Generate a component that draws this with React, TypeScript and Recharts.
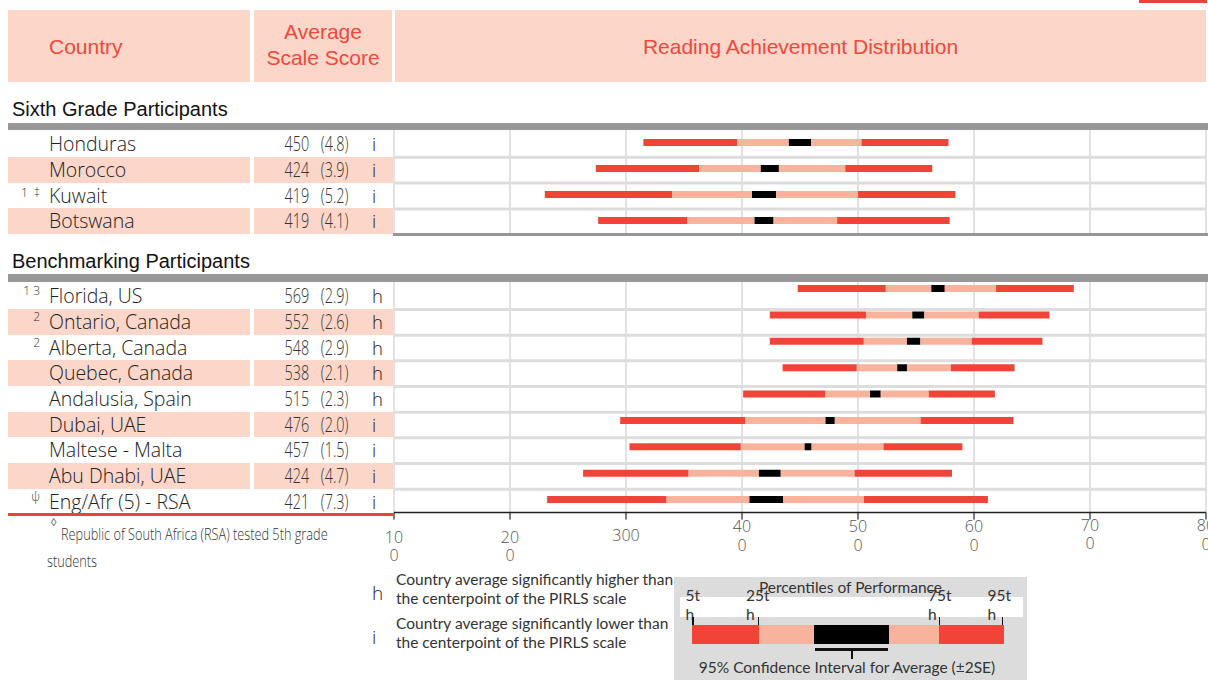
import React from 'react';
import { BarChart, Bar, XAxis, YAxis, CartesianGrid } from 'recharts';

// ---------- data ----------
const sixthCountries = ['Honduras', 'Morocco', 'Kuwait', 'Botswana'];
const sixthNotes = ['', '', '1  \u2021', ''];
const sixthMean = [450, 424, 419, 419];
const sixthSE = [4.8, 3.9, 5.2, 4.1];
const sixthFlag = ['i', 'i', 'i', 'i'];
const sixthP5 = [315, 274, 230, 276];
const sixthP25 = [396, 363, 340, 353];
const sixthP75 = [503, 489, 500, 482];
const sixthP95 = [578, 564, 584, 579];

const benchCountries = ['Florida, US', 'Ontario, Canada', 'Alberta, Canada', 'Quebec, Canada', 'Andalusia, Spain', 'Dubai, UAE', 'Maltese - Malta', 'Abu Dhabi, UAE', 'Eng/Afr (5) - RSA'];
const benchNotes = ['1 3', '2', '2', '', '', '', '', '', '\u03C8'];
const benchMean = [569, 552, 548, 538, 515, 476, 457, 424, 421];
const benchSE = [2.9, 2.6, 2.9, 2.1, 2.3, 2.0, 1.5, 4.7, 7.3];
const benchFlag = ['h', 'h', 'h', 'h', 'h', 'i', 'i', 'i', 'i'];
const benchP5 = [448, 424, 424, 435, 401, 295, 303, 263, 232];
const benchP25 = [524, 507, 505, 499, 472, 403, 399, 354, 335];
const benchP75 = [619, 604, 598, 580, 561, 554, 522, 497, 505];
const benchP95 = [686, 665, 659, 635, 618, 634, 590, 581, 612];

const xTicks = [100, 200, 300, 400, 500, 600, 700, 800];
const xTickLabels = [['10', '0'], ['20', '0'], ['300'], ['40', '0'], ['50', '0'], ['60', '0'], ['70', '0'], ['80', '0']];
const pctLabels = [['5t', 'h'], ['25t', 'h'], ['75t', 'h'], ['95t', 'h']];

// ---------- styles ----------
const PINK = '#FCD6C8';
const RED = '#F04438';
const LIGHT = '#F8B39C';
const HEAD_RED = '#F0483C';
const GRAY_BAR = '#979797';
const SEP = '#DDDDDD';
const PLOT_LEFT = 394;
const PLOT_W = 812;
const PAD = 30;
const HEAD_FONT = '"Liberation Sans", Arial, sans-serif';
const NAME_FONT = '"Open Sans", "Noto Sans", sans-serif';
const LEG_FONT = 'Lato, "Open Sans", sans-serif';
const TICK_BASE = [30, 30, 28, 19.5, 19.5, 19.5, 18, 18.5];

function buildRows(names: string[], mean: number[], se: number[], p5: number[], p25: number[], p75: number[], p95: number[]) {
  return names.map((n, i) => {
    const lo = mean[i] - 2 * se[i];
    const hi = mean[i] + 2 * se[i];
    return {
      name: n,
      base: p5[i],
      lowTail: p25[i] - p5[i],
      lowMid: lo - p25[i],
      ci: hi - lo,
      highMid: p75[i] - hi,
      highTail: p95[i] - p75[i],
    };
  });
}

const AxisTick = (props: any) => {
  const { x, y, payload } = props;
  const idx = xTicks.indexOf(payload.value);
  const lines = xTickLabels[idx] || [String(payload.value)];
  const b = (TICK_BASE[idx] ?? 20) - 7;
  return (
    <text x={x} y={y + b} textAnchor="middle" fill="#555" fontSize={16} fontFamily={NAME_FONT} fontWeight={300}>
      {lines.map((l, k) => (
        <tspan key={k} x={x} dy={k === 0 ? 0 : 18.5}>{l}</tspan>
      ))}
    </text>
  );
};

function DistChart({ data, top, plotH, axis, rowTop, rowH }: any) {
  const axisH = axis ? 60 : 0;
  const seps = data.slice(1).map((_: any, k: number) => rowTop + (k + 1) * rowH - top);
  return (
    <div style={{ position: 'absolute', left: PLOT_LEFT - PAD, top }}>
      <BarChart width={PLOT_W + PAD + 20} height={plotH + axisH} data={data} layout="vertical"
        margin={{ top: 0, right: 20, bottom: 0, left: PAD }} barCategoryGap={0} barSize={7}>
        <CartesianGrid horizontal={false} vertical stroke="#E2E2E2" strokeWidth={2} />
        <CartesianGrid horizontal vertical={false} horizontalPoints={seps} stroke={SEP} strokeWidth={3} />
        <XAxis type="number" domain={[100, 800]} ticks={xTicks} allowDataOverflow interval={0}
          hide={!axis} height={axisH} axisLine={{ stroke: '#222', strokeWidth: 1.5 }}
          tickLine={{ stroke: '#222', strokeWidth: 1.2 }} tickSize={7} tickMargin={0} tick={<AxisTick />} />
        <YAxis type="category" dataKey="name" hide width={0} />
        <Bar dataKey="base" stackId="s" fill="transparent" isAnimationActive={false} />
        <Bar dataKey="lowTail" stackId="s" fill={RED} isAnimationActive={false} />
        <Bar dataKey="lowMid" stackId="s" fill={LIGHT} isAnimationActive={false} />
        <Bar dataKey="ci" stackId="s" fill="#000" isAnimationActive={false} />
        <Bar dataKey="highMid" stackId="s" fill={LIGHT} isAnimationActive={false} />
        <Bar dataKey="highTail" stackId="s" fill={RED} isAnimationActive={false} />
      </BarChart>
    </div>
  );
}

const narrow = (right: number, top: number, h: number, txt: string) => (
  <div style={{ position: 'absolute', right: 1208 - right, top, lineHeight: h + 'px', fontFamily: NAME_FONT, fontWeight: 300, fontSize: 20, color: '#333', whiteSpace: 'nowrap', transform: 'scaleX(0.72)', transformOrigin: 'right center' }}>{txt}</div>
);

function TableRows({ names, notes, mean, se, flag, rowTop, rowH, noteDy }: any) {
  return (
    <>
      {names.map((n: string, i: number) => {
        const top = rowTop + i * rowH;
        const pink = i % 2 === 1;
        return (
          <React.Fragment key={n}>
            {pink && <div style={{ position: 'absolute', left: 8, top, width: 242, height: rowH, background: PINK }} />}
            {pink && <div style={{ position: 'absolute', left: 254, top, width: 139, height: rowH, background: PINK }} />}
            {notes[i] && (
              <div style={{ position: 'absolute', left: 0, width: 40, top: top + noteDy, textAlign: 'right', fontFamily: NAME_FONT, fontWeight: 300, fontSize: 12, lineHeight: '12px', color: '#333', whiteSpace: 'pre' }}>{notes[i]}</div>
            )}
            <div style={{ position: 'absolute', left: 49, top, height: rowH, lineHeight: rowH + 'px', fontFamily: NAME_FONT, fontWeight: 300, fontSize: 19.5, color: '#222', whiteSpace: 'nowrap' }}>{n}</div>
            {narrow(309, top, rowH, String(mean[i]))}
            {narrow(348.5, top, rowH, `(${se[i].toFixed(1)})`)}
            <div style={{ position: 'absolute', left: 372, top, lineHeight: rowH + 'px', fontFamily: NAME_FONT, fontWeight: 300, fontSize: 18.5, color: '#222' }}>{flag[i]}</div>
          </React.Fragment>
        );
      })}
    </>
  );
}

export default function App() {
  const sixth = buildRows(sixthCountries, sixthMean, sixthSE, sixthP5, sixthP25, sixthP75, sixthP95);
  const bench = buildRows(benchCountries, benchMean, benchSE, benchP5, benchP25, benchP75, benchP95);
  const S_TOP = 131, S_H = 25.8, B_TOP = 283.3, B_H = 25.67;
  const abs = (o: any) => ({ position: 'absolute' as const, ...o });
  const segs = [
    { l: 692, r: 759, c: RED }, { l: 759, r: 814, c: LIGHT }, { l: 814, r: 889, c: '#000' },
    { l: 889, r: 939, c: LIGHT }, { l: 939, r: 1004, c: RED },
  ];
  const pctX = [685.5, 746, 928, 987.5];
  const pctTick = [692, 757.5, 938.5, 1001.5];
  const foot = { fontFamily: NAME_FONT, fontWeight: 300, fontSize: 17, color: '#333', whiteSpace: 'nowrap', transform: 'scaleX(0.75)', transformOrigin: 'left center', lineHeight: '20px' };
  return (
    <div style={{ position: 'absolute', left: 0, top: 0, width: 1208, height: 680, overflow: 'hidden', background: '#fff' }}>
      {/* top-right red mark */}
      <div style={abs({ left: 1139, top: 0, width: 68, height: 3, background: '#E8443A' })} />
      {/* header */}
      <div style={abs({ left: 8, top: 10, width: 242, height: 72, background: PINK })} />
      <div style={abs({ left: 254, top: 10, width: 138, height: 72, background: PINK })} />
      <div style={abs({ left: 395, top: 10, width: 811, height: 72, background: PINK })} />
      <div style={abs({ left: 49, top: 35, lineHeight: '24px', fontFamily: HEAD_FONT, fontSize: 21, color: HEAD_RED })}>Country</div>
      <div style={abs({ left: 254, top: 19, width: 138, textAlign: 'center', lineHeight: '26px', fontFamily: HEAD_FONT, fontSize: 21, color: HEAD_RED })}>Average<br />Scale Score</div>
      <div style={abs({ left: 395, top: 35, width: 811, textAlign: 'center', lineHeight: '24px', fontFamily: HEAD_FONT, fontSize: 21, color: HEAD_RED })}>Reading Achievement Distribution</div>

      <div style={abs({ left: 12, top: 97, lineHeight: '24px', fontFamily: HEAD_FONT, fontSize: 20, color: '#111', whiteSpace: 'nowrap' })}>Sixth Grade Participants</div>
      <div style={abs({ left: 12, top: 248.5, lineHeight: '24px', fontFamily: HEAD_FONT, fontSize: 20, color: '#111', whiteSpace: 'nowrap' })}>Benchmarking Participants</div>

      <TableRows names={sixthCountries} notes={sixthNotes} mean={sixthMean} se={sixthSE} flag={sixthFlag} rowTop={S_TOP} rowH={S_H} noteDy={4.5} />
      <TableRows names={benchCountries} notes={benchNotes} mean={benchMean} se={benchSE} flag={benchFlag} rowTop={B_TOP} rowH={B_H} noteDy={2} />

      <DistChart data={sixth} top={128.5} plotH={104} axis={false} rowTop={S_TOP} rowH={S_H} />
      <DistChart data={bench} top={274.5} plotH={237.5} axis rowTop={B_TOP} rowH={B_H} />

      {/* gray rules */}
      <div style={abs({ left: 8, top: 123.3, width: 1200, height: 7.2, background: GRAY_BAR })} />
      <div style={abs({ left: 393, top: 232.8, width: 815, height: 3.2, background: GRAY_BAR })} />
      <div style={abs({ left: 8, top: 274, width: 1200, height: 7.6, background: GRAY_BAR })} />
      <div style={abs({ left: 8, top: 513, width: 385, height: 2.5, background: '#E8443A' })} />

      {/* footnote */}
      <div style={abs({ left: 51, top: 516, fontFamily: HEAD_FONT, fontSize: 11, lineHeight: '12px', color: '#444' })}>{'\u25CA'}</div>
      <div style={abs({ left: 60.5, top: 524, ...foot })}>Republic of South Africa (RSA) tested 5th grade</div>
      <div style={abs({ left: 47, top: 550.5, ...foot })}>students</div>

      {/* h / i legend */}
      <div style={abs({ left: 372, top: 582, lineHeight: '22px', fontFamily: NAME_FONT, fontWeight: 300, fontSize: 19, color: '#222' })}>h</div>
      <div style={abs({ left: 396, top: 569.5, lineHeight: '19px', fontFamily: LEG_FONT, fontSize: 15.5, color: '#333', whiteSpace: 'nowrap' })}>Country average significantly higher than<br />the centerpoint of the PIRLS scale</div>
      <div style={abs({ left: 372, top: 626, lineHeight: '22px', fontFamily: NAME_FONT, fontWeight: 300, fontSize: 19, color: '#222' })}>i</div>
      <div style={abs({ left: 396, top: 613.5, lineHeight: '19px', fontFamily: LEG_FONT, fontSize: 15.5, color: '#333', whiteSpace: 'nowrap' })}>Country average significantly lower than<br />the centerpoint of the PIRLS scale</div>

      {/* percentile legend */}
      <div style={abs({ left: 674, top: 577, width: 353, height: 103, background: '#DCDCDC' })} />
      <div style={abs({ left: 680, top: 597.3, width: 342.5, height: 19.4, background: '#fff' })} />
      <div style={abs({ left: 674, top: 578, width: 353, textAlign: 'center', lineHeight: '18px', fontFamily: LEG_FONT, fontSize: 15.5, color: '#333' })}>Percentiles of Performance</div>
      {pctLabels.map((p, k) => (
        <div key={k} style={abs({ left: pctX[k], top: 585.5, lineHeight: '19px', fontFamily: LEG_FONT, fontSize: 15.5, color: '#333' })}>{p[0]}<br />{p[1]}</div>
      ))}
      {pctTick.map((x, k) => (
        <div key={k} style={abs({ left: x, top: 617, width: 1.6, height: 8, background: '#111' })} />
      ))}
      {segs.map((s, k) => (
        <div key={k} style={abs({ left: s.l, top: 625, width: s.r - s.l, height: 19, background: s.c })} />
      ))}
      <div style={abs({ left: 815, top: 648, width: 73, height: 2.5, background: '#111' })} />
      <div style={abs({ left: 850.5, top: 650, width: 2, height: 9, background: '#111' })} />
      <div style={abs({ left: 674, top: 658, width: 346, textAlign: 'center', lineHeight: '18px', fontFamily: LEG_FONT, fontSize: 15.5, color: '#333', whiteSpace: 'nowrap' })}>95% Confidence Interval for Average (&plusmn;2SE)</div>
    </div>
  );
}
